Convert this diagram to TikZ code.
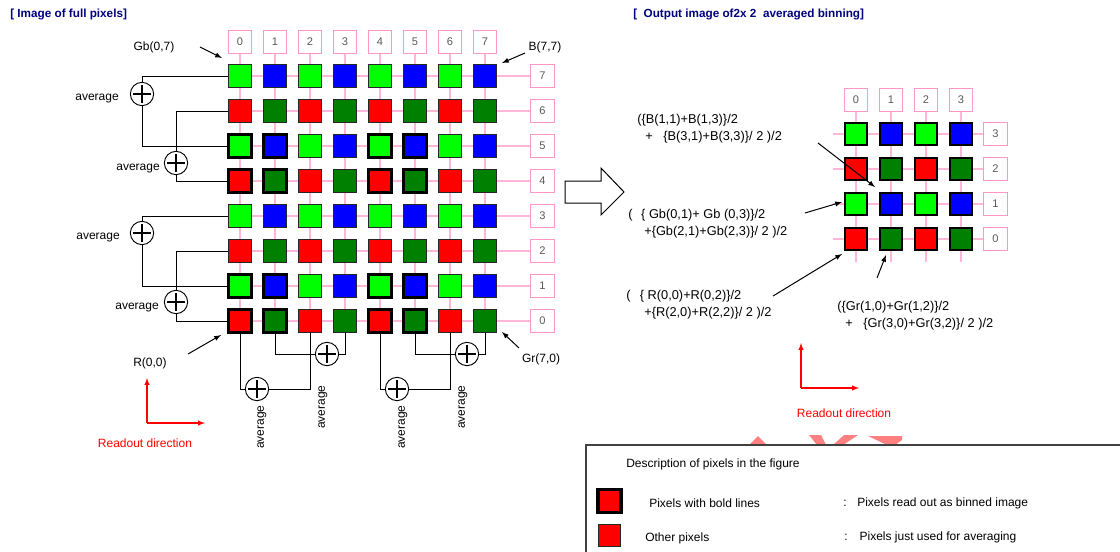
\documentclass[tikz,border=0pt]{standalone}
\usepackage{fontspec}
\setmainfont{Liberation Sans}
\usepackage{xcolor}
\usepackage{tikz}
\usetikzlibrary{shapes,arrows}
\usetikzlibrary{positioning}
\pgfdeclarelayer{background}
\pgfsetlayers{background,main}
\definecolor{pixred}{RGB}{255,0,0}
\definecolor{pixdkgreen}{RGB}{0,128,0}
\definecolor{pixgreen}{RGB}{0,255,0}
\definecolor{pixblue}{RGB}{0,0,255}
\definecolor{gridpink}{RGB}{255,182,217}
\definecolor{boxpink}{RGB}{255,150,200}
\definecolor{titleblue}{RGB}{0,0,128}
\definecolor{markred}{RGB}{255,128,128}
\tikzstyle{pixel} = [rectangle, draw=black!85, line width=0.75pt,
    minimum size=17.6pt, inner sep=0pt]
\tikzstyle{boldpixel} = [pixel, draw=black, line width=2.6pt, minimum size=17.4pt]
\tikzstyle{outpixel} = [pixel, draw=black, line width=1.5pt, minimum size=16.5pt]
\tikzstyle{index} = [rectangle, draw=boxpink, fill=white, line width=0.75pt,
    minimum width=17.5pt, minimum height=17pt, inner sep=0pt,
    text=black!65, font=\fontsize{8.3pt}{9pt}\selectfont]
\tikzstyle{adder} = [circle, draw, fill=white, line width=0.7pt,
    minimum size=17.5pt, inner sep=0pt,
    path picture={\draw[line width=1pt]
      ([xshift=-6.6pt]path picture bounding box.center) --
      ([xshift=6.6pt]path picture bounding box.center)
      ([yshift=-6.6pt]path picture bounding box.center) --
      ([yshift=6.6pt]path picture bounding box.center);}]
\tikzstyle{lbl} = [inner sep=0pt, font=\fontsize{9pt}{12.5pt}\selectfont]
\tikzstyle{formula} = [lbl, anchor=west, align=left, font=\fontsize{9.6pt}{12.8pt}\selectfont]
\tikzstyle{title} = [lbl, text=titleblue, font=\fontsize{8.8pt}{10pt}\selectfont\bfseries]
\tikzstyle{wire} = [draw, line width=0.75pt]
\tikzstyle{gridline} = [draw=gridpink, line width=1pt]
\tikzstyle{line} = [draw, -latex, line width=0.75pt]
\tikzstyle{readout} = [draw=red, -latex, line width=0.8pt]

\begin{document}
\begin{tikzpicture}[x=0.75pt, y=-0.75pt]
  \useasboundingbox (0,0) rectangle (1120,551);

  % Titles
  \node [title, anchor=west] (fulltitle) at (10,14) {[ Image of full pixels]};
  \node [title, anchor=west] (bintitle) at (633,14) {[\ \ Output image of2x 2\ \ averaged binning]};

  % Full pixel array
  \foreach \c in {0,...,7}
    \foreach \r in {0,...,7} {
      \pgfmathtruncatemacro{\pixkind}{2*mod(\r,2)+mod(\c,2)}
      \pgfmathtruncatemacro{\pixbold}{and(mod(\c,4)<2, mod(\r,4)<2)}
      \ifcase\pixkind \def\pcol{pixred}\or \def\pcol{pixdkgreen}\or
        \def\pcol{pixgreen}\or \def\pcol{pixblue}\fi
      \ifnum\pixbold=1 \def\pstyle{boldpixel}\else \def\pstyle{pixel}\fi
      \node [\pstyle, fill=\pcol] (p\c\r) at ({240+35*\c},{321-35*\r}) {};
    }
  \foreach \c in {0,...,7}
    \node [index] (col\c) at ({240+35*\c},42) {\c};
  \foreach \r in {0,...,7}
    \node [index] (row\r) at (542.5,{321-35*\r}) {\r};

  % Binned pixel array
  \foreach \c in {0,...,3}
    \foreach \r in {0,...,3} {
      \pgfmathtruncatemacro{\pixkind}{2*mod(\r,2)+mod(\c,2)}
      \ifcase\pixkind \def\pcol{pixred}\or \def\pcol{pixdkgreen}\or
        \def\pcol{pixgreen}\or \def\pcol{pixblue}\fi
      \node [outpixel, fill=\pcol] (q\c\r) at ({856+35*\c},{239-35*\r}) {};
    }
  \foreach \c in {0,...,3} {
    \node [index] (qcol\c) at ({856+35*\c},100) {\c};
    \coordinate (qbot\c) at ({856+35*\c},262);
  }
  \foreach \r in {0,...,3} {
    \node [index] (qrow\r) at (995.5,{239-35*\r}) {\r};
    \coordinate (qleft\r) at (833,{239-35*\r});
  }

  % Pink grid lines
  \begin{pgfonlayer}{background}
    \foreach \r in {0,...,7}
      \path [gridline] (p0\r.center) -- (row\r.west);
    \foreach \c in {0,...,7}
      \path [gridline] (col\c.south) -- (p\c0.center);
    \foreach \r in {0,...,3}
      \path [gridline] (qleft\r) -- (qrow\r.west);
    \foreach \c in {0,...,3}
      \path [gridline] (qcol\c.south) -- (qbot\c);
  \end{pgfonlayer}

  % Averaging circuits
  \node [adder] (avg1) at (142,94) {};
  \node [adder] (avg2) at (176,163) {};
  \node [adder] (avg3) at (142,233) {};
  \node [adder] (avg4) at (176,302) {};
  \node [adder] (avg5) at (257,389) {};
  \node [adder] (avg6) at (327,354) {};
  \node [adder] (avg7) at (397,389) {};
  \node [adder] (avg8) at (467,354) {};
  \path [wire] (p07.west) -| (avg1.north);
  \path [wire] (avg1.south) |- (p05.west);
  \path [wire] (p06.west) -| (avg2.north);
  \path [wire] (avg2.south) |- (p04.west);
  \path [wire] (p03.west) -| (avg3.north);
  \path [wire] (avg3.south) |- (p01.west);
  \path [wire] (p02.west) -| (avg4.north);
  \path [wire] (avg4.south) |- (p00.west);
  \path [wire] (p00.south) |- (avg5.west);
  \path [wire] (avg5.east) -| (p20.south);
  \path [wire] (p10.south) |- (avg6.west);
  \path [wire] (avg6.east) -| (p30.south);
  \path [wire] (p40.south) |- (avg7.west);
  \path [wire] (avg7.east) -| (p60.south);
  \path [wire] (p50.south) |- (avg8.west);
  \path [wire] (avg8.east) -| (p70.south);
  \node [lbl, anchor=east] (avgtxt1) at (119,99) {average};
  \node [lbl, anchor=east] (avgtxt2) at (160,169) {average};
  \node [lbl, anchor=east] (avgtxt3) at (120,238) {average};
  \node [lbl, anchor=east] (avgtxt4) at (159,308) {average};
  \node [lbl, rotate=90] (avgtxt5) at (262,427) {average};
  \node [lbl, rotate=90] (avgtxt6) at (323,407) {average};
  \node [lbl, rotate=90] (avgtxt7) at (403,427) {average};
  \node [lbl, rotate=90] (avgtxt8) at (463,407) {average};

  % Pixel names
  \node [lbl] (gbname) at (154,47) {Gb(0,7)};
  \node [lbl] (bname) at (545,47) {B(7,7)};
  \node [lbl] (rname) at (150,363) {R(0,0)};
  \node [lbl] (grname) at (541,359) {Gr(7,0)};
  \coordinate (gbfrom) at (200,47);   \coordinate (gbto) at (222,58);
  \coordinate (bfrom) at (525,53);    \coordinate (bto) at (502,63);
  \coordinate (rfrom) at (188,354);   \coordinate (rto) at (221,335);
  \coordinate (grfrom) at (519,348);  \coordinate (grto) at (502,332);
  \path [line] (gbfrom) -- (gbto);
  \path [line] (bfrom) -- (bto);
  \path [line] (rfrom) -- (rto);
  \path [line] (grfrom) -- (grto);

  % Readout direction
  \coordinate (rdcorner) at (147,423);
  \coordinate (rdup) at (147,378);
  \coordinate (rdright) at (205,423);
  \path [readout] (rdcorner) -- (rdup);
  \path [readout] (rdcorner) -- (rdright);
  \node [lbl, text=red] (rdtxt) at (145,443) {Readout direction};
  \coordinate (qrdcorner) at (801,388);
  \coordinate (qrdup) at (801,343);
  \coordinate (qrdright) at (859,388);
  \path [readout] (qrdcorner) -- (qrdup);
  \path [readout] (qrdcorner) -- (qrdright);
  \node [lbl, text=red] (qrdtxt) at (844,413) {Readout direction};

  % Big arrow
  \draw [line width=0.75pt] (565,181) -- (601,181) -- (601,168) -- (624,192)
    -- (601,215) -- (601,203) -- (565,203) -- cycle;

  % Formulas
  \node [formula] (bform) at (637,129)
    {(\{B(1,1)+B(1,3)\}/2\\\hspace{6pt}+\ \ \ \{B(3,1)+B(3,3)\}/ 2 )/2};
  \node [formula] (gbform) at (628,224)
    {(\hspace{6.5pt}\{ Gb(0,1)+ Gb (0,3)\}/2\\\hspace{12pt}+\{Gb(2,1)+Gb(2,3)\}/ 2 )/2};
  \node [formula] (rform) at (626,305)
    {(\hspace{7pt}\{ R(0,0)+R(0,2)\}/2\\\hspace{13.5pt}+\{R(2,0)+R(2,2)\}/ 2 )/2};
  \node [formula] (grform) at (837,316)
    {(\{Gr(1,0)+Gr(1,2)\}/2\\\hspace{6pt}+\ \ \ \{Gr(3,0)+Gr(3,2)\}/ 2 )/2};
  \coordinate (bffrom) at (818,143);   \coordinate (bfto) at (875,187);
  \coordinate (gbffrom) at (805,213);  \coordinate (gbfto) at (842,202);
  \coordinate (rffrom) at (773,296);   \coordinate (rfto) at (842,254);
  \coordinate (grffrom) at (877,278);  \coordinate (grfto) at (886,255);
  \path [line] (bffrom) -- (bfto);
  \path [line] (gbffrom) -- (gbfto);
  \path [line] (rffrom) -- (rfto);
  \path [line] (grffrom) -- (grfto);

  % Red marks behind the legend
  \fill [markred] (749,445) -- (758,436) -- (767,445) -- cycle;
  \fill [markred] (809,435) -- (821,435) -- (826,445) -- (817,445) -- cycle;
  \fill [markred] (844,435) -- (858,435) -- (843,445) -- (833,445) -- cycle;
  \fill [markred] (868,436) -- (902,436) -- (902,440) -- (895,445) -- (887,445) -- cycle;

  % Legend
  \draw [draw=black!75, line width=1.1pt] (586,445) rectangle (1130,560);
  \node [lbl, anchor=west] (legtitle) at (626,464) {Description of pixels in the figure};
  \node [boldpixel, fill=pixred] (legbold) at (609.5,501) {};
  \node [pixel, fill=pixred, minimum size=17.2pt] (legthin) at (609.5,535.5) {};
  \node [lbl, anchor=west] (legboldtxt) at (649,503) {Pixels with bold lines};
  \node [lbl, anchor=west] (legboldinfo) at (843,503) {:\hspace{8pt}Pixels read out as binned image};
  \node [lbl, anchor=west] (legthintxt) at (645,538) {Other pixels};
  \node [lbl, anchor=west] (legthininfo) at (844,537) {:\hspace{9pt}Pixels just used for averaging};
\end{tikzpicture}
\end{document}
